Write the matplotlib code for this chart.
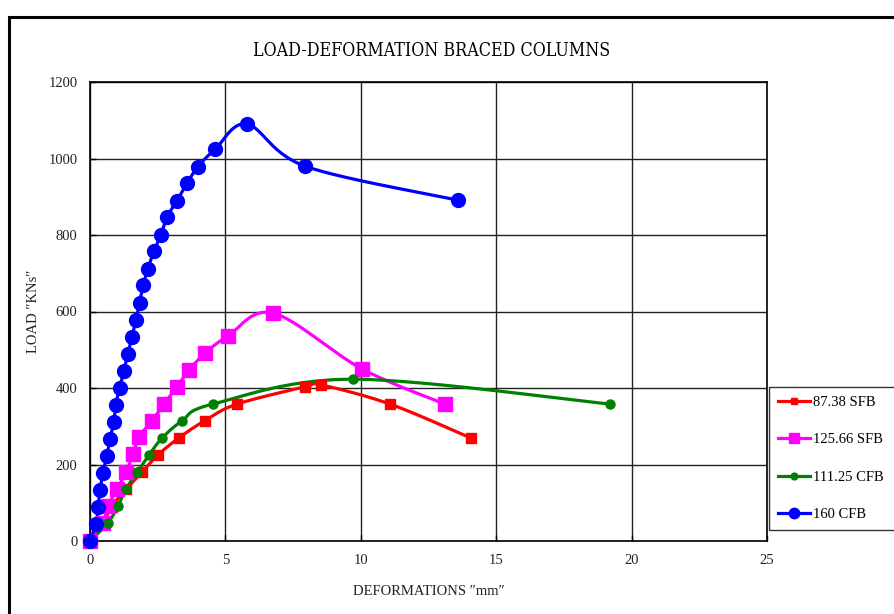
import numpy as np
import matplotlib
matplotlib.use("Agg")
import matplotlib.pyplot as plt
from matplotlib.patches import Rectangle
from matplotlib.lines import Line2D
from matplotlib import font_manager as fm

# ---------------- data ----------------
red_x = [0, 0.45, 0.8, 1.33, 1.92, 2.51, 3.29, 4.25, 5.43, 7.94, 8.53, 11.08, 14.07]
red_y = [0, 45, 90, 135, 180, 225, 270, 315, 358, 403, 408, 358, 269]

mag_x = [0, 0.48, 0.66, 1.0, 1.33, 1.59, 1.81, 2.29, 2.73, 3.21, 3.66, 4.25, 5.1, 6.76, 10.04, 13.1]
mag_y = [0, 47, 91, 136, 180, 227, 272, 314, 358, 403, 447, 491, 536, 596, 450, 358]

grn_x = [0, 0.66, 1.03, 1.33, 1.74, 2.18, 2.66, 3.40, 4.54, 9.71, 19.2]
grn_y = [0, 47, 91, 136, 180, 225, 269, 314, 358, 423, 358]

blu_x = [0, 0.22, 0.30, 0.37, 0.48, 0.62, 0.74, 0.88, 0.95, 1.10, 1.25, 1.40, 1.55,
         1.70, 1.83, 1.96, 2.14, 2.36, 2.62, 2.84, 3.21, 3.58, 3.99, 4.62, 5.80, 7.94, 13.59]
blu_y = [0, 45, 89, 134, 178, 223, 267, 312, 356, 401, 445, 490, 534,
         579, 623, 668, 712, 757, 801, 846, 890, 935, 979, 1024, 1090, 980, 891]

labels = ["87.38 SFB", "125.66 SFB", "111.25 CFB", "160 CFB"]
xticks = [0, 5, 10, 15, 20, 25]
yticks = [0, 200, 400, 600, 800, 1000, 1200]

FONT = "Liberation Serif"
cond = [f for f in fm.fontManager.ttflist
        if f.name == "DejaVu Serif" and f.stretch in ("condensed", 300, "semi-condensed")]
TITLEFONT, TITLE_STRETCH = (("DejaVu Serif", "condensed") if cond else (FONT, "normal"))

def smooth(xs, ys, sx, sy, n=30):
    # Catmull-Rom style Bezier smoothing in screen-scaled space
    P = np.column_stack([np.asarray(xs) * sx, np.asarray(ys) * sy])
    out = [P[0]]
    m = len(P)
    for i in range(m - 1):
        p0 = P[i - 1] if i > 0 else P[i]
        p1 = P[i]
        p2 = P[i + 1]
        p3 = P[i + 2] if i + 2 < m else P[i + 1]
        c1 = p1 + (p2 - p0) / 6.0
        c2 = p2 - (p3 - p1) / 6.0
        t = np.linspace(0, 1, n)[1:, None]
        seg = ((1 - t) ** 3) * p1 + 3 * ((1 - t) ** 2) * t * c1 + 3 * (1 - t) * t ** 2 * c2 + t ** 3 * p2
        out.extend(seg)
    out = np.array(out)
    return out[:, 0] / sx, out[:, 1] / sy

fig = plt.figure(figsize=(8.94, 6.14), dpi=100)
ax = fig.add_axes([90 / 894, 1 - 541 / 614, 677 / 894, 459 / 614])
ax.set_xlim(0, 25)
ax.set_ylim(0, 1200)
sx, sy = 677 / 25.0, 459 / 1200.0

series = [
    (red_x, red_y, "#FF0000", "s", 6.5),
    (mag_x, mag_y, "#FF00FF", "s", 9.5),
    (grn_x, grn_y, "#008000", "o", 6.5),
    (blu_x, blu_y, "#0000FF", "o", 10),
]
handles = []
for (xs, ys, c, mk, ms), lab in zip(series, labels):
    cx, cy = smooth(xs, ys, sx, sy)
    ax.plot(cx, cy, color=c, lw=2.3, clip_on=False, zorder=3, solid_capstyle="round")
    ax.plot(xs, ys, linestyle="none", marker=mk, color=c, markersize=ms, clip_on=False, zorder=4)
    handles.append(Line2D([0], [0], color=c, lw=2.3, marker=mk, markersize=ms * 0.75))

ax.set_xticks(xticks)
ax.set_yticks(yticks)
ax.grid(True, color="#222222", lw=1.0)
ax.set_axisbelow(True)
for s in ax.spines.values():
    s.set_color("black")
    s.set_linewidth(1.2)
ax.tick_params(direction="in", length=4, width=1, pad=9, labelsize=10.5)
for t in ax.get_xticklabels() + ax.get_yticklabels():
    t.set_fontfamily(FONT)
    t.set_color("#222222")

ax.set_xlabel("DEFORMATIONS \u2033mm\u2033", fontfamily=FONT, fontsize=10.5, color="#222222", labelpad=13)
ax.set_ylabel("LOAD \u2033KNs\u2033", fontfamily=FONT, fontsize=10.5, color="#222222")
ax.yaxis.set_label_coords(-50 / 677, 0.5)

fig.text(432 / 894, 1 - 51 / 614, "LOAD-DEFORMATION BRACED COLUMNS", ha="center", va="center",
         fontfamily=TITLEFONT, fontstretch=TITLE_STRETCH, fontsize=12.8, color="black")

leg = fig.legend(handles, labels, loc="lower left", bbox_to_anchor=(769 / 894, 1 - 530 / 614, 130 / 894, 144 / 614),
                 mode="expand", frameon=True, fancybox=False, framealpha=1, edgecolor="#333333",
                 prop={"family": FONT, "size": 10.5}, handlelength=2.2, handletextpad=0.2,
                 labelspacing=1.65, borderpad=0.62, borderaxespad=0)
leg.get_frame().set_linewidth(1.0)

fig.patches.append(Rectangle((9 / 894, -0.1), 1.2, 1.1 - 17 / 614, transform=fig.transFigure,
                             fill=False, edgecolor="black", lw=2.2))

fig.savefig("out.png", dpi=100)
